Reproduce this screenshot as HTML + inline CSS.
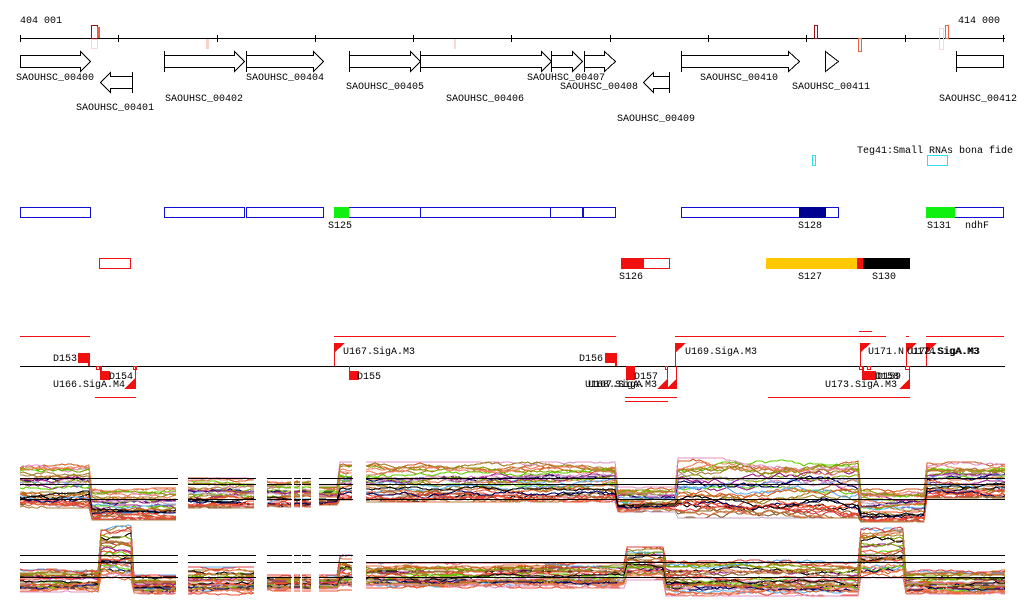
<!DOCTYPE html>
<html><head><meta charset="utf-8"><style>
html,body{margin:0;padding:0;background:#fff;width:1024px;height:611px;overflow:hidden}
svg text{font-family:"Liberation Mono",monospace;font-size:10px;fill:#000}
</style></head><body>
<svg id="s" width="1024" height="611" xmlns="http://www.w3.org/2000/svg" shape-rendering="crispEdges">
<text x="20" y="23">404 001</text>
<text x="958" y="23">414 000</text>
<line x1="20" y1="38.5" x2="1005" y2="38.5" stroke="#000"/>
<g stroke="#000">
<line x1="20.5" y1="35" x2="20.5" y2="42"/><line x1="118.5" y1="35" x2="118.5" y2="42"/><line x1="217.5" y1="35" x2="217.5" y2="42"/><line x1="315.5" y1="35" x2="315.5" y2="42"/><line x1="413.5" y1="35" x2="413.5" y2="42"/><line x1="511.5" y1="35" x2="511.5" y2="42"/><line x1="610.5" y1="35" x2="610.5" y2="42"/><line x1="708.5" y1="35" x2="708.5" y2="42"/><line x1="806.5" y1="35" x2="806.5" y2="42"/><line x1="905.5" y1="35" x2="905.5" y2="42"/><line x1="1003.5" y1="35" x2="1003.5" y2="42"/>
</g>
<rect x="91.5" y="25.5" width="6" height="13" fill="none" stroke="#a01010"/>
<rect x="97" y="27" width="3" height="11" fill="#f06040"/>
<rect x="91.5" y="39.5" width="6" height="9" fill="none" stroke="#f8d8d0"/>
<rect x="206" y="39" width="3" height="10" fill="#f8d0c8"/>
<rect x="454" y="39" width="2" height="10" fill="#f8d8d0"/>
<rect x="814.5" y="25.5" width="3" height="13" fill="none" stroke="#a01010"/>
<rect x="858.5" y="38.5" width="3" height="13" fill="none" stroke="#f06040"/>
<rect x="939.5" y="28.5" width="4" height="21" fill="none" stroke="#f8d8d0"/>
<rect x="945.5" y="25.5" width="3" height="13" fill="none" stroke="#f06040"/>
<g fill="#fff" stroke="#000" stroke-width="1">
<polygon points="20.5,55.5 80.5,55.5 80.5,51.5 90.5,61.5 80.5,71.5 80.5,67.5 20.5,67.5"/>
<polygon points="132.5,76.5 110.5,76.5 110.5,72.5 100.5,82.5 110.5,92.5 110.5,88.5 132.5,88.5"/>
<line x1="132.5" y1="72" x2="132.5" y2="93"/>
<polygon points="164.5,55.5 234.5,55.5 234.5,51.5 244.5,61.5 234.5,71.5 234.5,67.5 164.5,67.5"/>
<line x1="164.5" y1="51" x2="164.5" y2="72"/>
<polygon points="246.5,55.5 313.5,55.5 313.5,51.5 323.5,61.5 313.5,71.5 313.5,67.5 246.5,67.5"/>
<line x1="246.5" y1="51" x2="246.5" y2="72"/>
<polygon points="349.5,55.5 410.5,55.5 410.5,51.5 420.5,61.5 410.5,71.5 410.5,67.5 349.5,67.5"/>
<line x1="349.5" y1="51" x2="349.5" y2="72"/>
<polygon points="420.5,55.5 541.5,55.5 541.5,51.5 551.5,61.5 541.5,71.5 541.5,67.5 420.5,67.5"/>
<line x1="420.5" y1="51" x2="420.5" y2="72"/>
<polygon points="551.5,55.5 572.5,55.5 572.5,51.5 582.5,61.5 572.5,71.5 572.5,67.5 551.5,67.5"/>
<line x1="551.5" y1="51" x2="551.5" y2="72"/>
<polygon points="584.5,55.5 604.5,55.5 604.5,51.5 615.5,61.5 604.5,71.5 604.5,67.5 584.5,67.5"/>
<line x1="584.5" y1="51" x2="584.5" y2="72"/>
<polygon points="669.5,76.5 653.5,76.5 653.5,72.5 643.5,82.5 653.5,92.5 653.5,88.5 669.5,88.5"/>
<line x1="669.5" y1="72" x2="669.5" y2="93"/>
<polygon points="681.5,55.5 788.5,55.5 788.5,51.5 799.5,61.5 788.5,71.5 788.5,67.5 681.5,67.5"/>
<line x1="681.5" y1="51" x2="681.5" y2="72"/>
<polygon points="825.5,51.5 838.5,61.5 825.5,71.5"/>
<rect x="956.5" y="55.5" width="47" height="12"/>
<line x1="956.5" y1="51" x2="956.5" y2="72"/>
</g>
<text x="16" y="80">SAOUHSC_00400</text>
<text x="76" y="110">SAOUHSC_00401</text>
<text x="165" y="101">SAOUHSC_00402</text>
<text x="246" y="80">SAOUHSC_00404</text>
<text x="346" y="89">SAOUHSC_00405</text>
<text x="446" y="101">SAOUHSC_00406</text>
<text x="527" y="80">SAOUHSC_00407</text>
<text x="560" y="89">SAOUHSC_00408</text>
<text x="617" y="121">SAOUHSC_00409</text>
<text x="700" y="80">SAOUHSC_00410</text>
<text x="792" y="89">SAOUHSC_00411</text>
<text x="939" y="101">SAOUHSC_00412</text>
<text x="857" y="153">Teg41:Small RNAs bona fide</text>
<path d="M812 155h4v11h-4zM813 156v9h2v-9z" fill="#30e0f0" fill-rule="evenodd"/>
<path d="M927 155h21v11h-21zM928 156v9h19v-9z" fill="#30e0f0" fill-rule="evenodd"/>
<g fill="none" stroke="#1010d0">
<rect x="20.5" y="207.5" width="70" height="10"/>
<rect x="164.5" y="207.5" width="80" height="10"/>
<rect x="246.5" y="207.5" width="77" height="10"/>
<rect x="348.5" y="207.5" width="72" height="10"/>
<rect x="420.5" y="207.5" width="130" height="10"/>
<rect x="550.5" y="207.5" width="32" height="10"/>
<rect x="583.5" y="207.5" width="32" height="10"/>
<rect x="681.5" y="207.5" width="157" height="10"/>
<rect x="954.5" y="207.5" width="49" height="10"/>
</g>
<rect x="334" y="207" width="15" height="11" fill="#10f010"/>
<rect x="799" y="207" width="27" height="11" fill="#000090"/>
<rect x="926" y="207" width="29" height="11" fill="#10f010"/>
<text x="328" y="228">S125</text>
<text x="798" y="228">S128</text>
<text x="927" y="228">S131</text>
<text x="965" y="228">ndhF</text>
<rect x="99.5" y="258.5" width="31" height="10" fill="none" stroke="#f01010"/>
<rect x="621.5" y="258.5" width="48" height="10" fill="none" stroke="#f01010"/>
<rect x="621" y="258" width="23" height="11" fill="#f01010"/>
<rect x="766" y="258" width="91" height="11" fill="#ffc800"/>
<rect x="857" y="258" width="6" height="11" fill="#f01010"/>
<rect x="863" y="258" width="47" height="11" fill="#000"/>
<text x="619" y="279">S126</text>
<text x="798" y="279">S127</text>
<text x="872" y="279">S130</text>
<g stroke="#f01010" fill="none">
<line x1="20" y1="336.5" x2="90" y2="336.5"/>
<line x1="334" y1="336.5" x2="616" y2="336.5"/>
<line x1="675" y1="336.5" x2="886" y2="336.5"/>
<line x1="906" y1="336.5" x2="909" y2="336.5"/>
<line x1="926" y1="336.5" x2="1004" y2="336.5"/>
<line x1="859" y1="331.5" x2="872" y2="331.5"/>
<line x1="95" y1="397.5" x2="136" y2="397.5"/>
<line x1="625" y1="397.5" x2="677" y2="397.5"/>
<line x1="768" y1="397.5" x2="910" y2="397.5"/>
<line x1="625" y1="401.5" x2="668" y2="401.5"/>
</g>
<line x1="20" y1="366.5" x2="1005" y2="366.5" stroke="#000"/>
<g fill="#f01010" stroke="none">
<rect x="78" y="353" width="11" height="10"/><rect x="88" y="353" width="2" height="13"/>
<rect x="100" y="371" width="10" height="9"/><rect x="100" y="366" width="2" height="6"/>
<rect x="349" y="371" width="10" height="9"/><rect x="349" y="366" width="1" height="6"/>
<rect x="605" y="353" width="11" height="10"/><rect x="615" y="353" width="2" height="13"/>
<rect x="626" y="366" width="9" height="14"/>
<rect x="862" y="371" width="14" height="9"/><rect x="862" y="366" width="2" height="6"/>
<polygon points="334,343 345,343 334,353"/><rect x="334" y="343" width="1" height="23"/>
<polygon points="135,378 135,389 124,389"/><rect x="135" y="366" width="1" height="23"/>
<polygon points="675,343 686,343 675,353"/><rect x="675" y="343" width="1" height="23"/>
<polygon points="677,378 677,389 666,389"/><rect x="676" y="366" width="1" height="23"/>
<polygon points="668,378 668,389 657,389"/><rect x="667" y="366" width="1" height="23"/>
<polygon points="860,343 871,343 860,353"/><rect x="860" y="343" width="1" height="23"/>
<polygon points="906,343 917,343 906,353"/><rect x="906" y="343" width="1" height="23"/>
<polygon points="926,343 937,343 926,353"/><rect x="926" y="343" width="1" height="23"/>
<polygon points="910,378 910,389 899,389"/><rect x="909" y="366" width="1" height="23"/>
</g>
<g fill="none" stroke="#f01010">
<rect x="96.5" y="366.5" width="3" height="3"/><rect x="133.5" y="366.5" width="3" height="3"/>
<rect x="665.5" y="366.5" width="2" height="3"/>
<rect x="859.5" y="366.5" width="3" height="3"/><rect x="867.5" y="366.5" width="3" height="3"/><rect x="905.5" y="366.5" width="4" height="3"/>
</g>
<text x="53" y="361">D153</text>
<text x="109" y="379">D154</text>
<text x="53" y="387">U166.SigA.M4</text>
<text x="343" y="354">U167.SigA.M3</text>
<text x="357" y="379">D155</text>
<text x="579" y="361">D156</text>
<text x="634" y="379">D157</text>
<text x="585" y="387">U168.SigA.M3</text>
<text x="588" y="387">U167.SigA</text>
<text x="685" y="354">U169.SigA.M3</text>
<text x="868" y="354">U171.N</text>
<text x="907" y="354">U172.SigA.M3</text>
<text x="911" y="354">U174</text>
<text x="932" y="354">.SigA.M3</text>
<text x="875" y="379">D158</text>
<text x="877" y="379">D159</text>
<text x="825" y="387">U173.SigA.M3</text>
<g id="plots"></g>
</svg>
<script>
(function(){
var NS="http://www.w3.org/2000/svg",g=document.getElementById("plots");
var seed=12345;function r(){seed=(seed*1103515245+12345)&0x7fffffff;return seed/0x7fffffff;}
var cols=["#f05030","#a08020","#a0208a","#60d000","#60b0f0","#e090c0","#906030","#e07040","#c0a0c0","#e04040","#000060","#80a000","#d06020","#b08040","#f08060","#000000"];
var up=[[20,90,462,508],[90,178,488,520],[188,256,478,508],[267,319,480,507],[319,340,485,505],[340,353,462,500],[366,616,462,502],[616,678,487,512],[678,860,458,518],[860,925,488,522],[925,1005,462,498]];
var lo=[[20,100,568,592],[100,132,525,580],[132,178,575,594],[188,256,567,595],[267,340,575,591],[340,353,555,590],[366,625,563,588],[625,665,547,580],[665,860,560,596],[860,905,524,578],[905,1005,570,594]];
var segs=[[20,178],[188,256],[267,292],[294,301],[302,311],[319,353],[366,1005]];
function band(B,x){for(var i=0;i<B.length;i++)if(x>=B[i][0]&&x<B[i][1])return B[i];return B[B.length-1];}
function panel(B,hl){
 for(var k=0;k<34;k++){
  var q=Math.pow(r(),0.8),c=cols[k%cols.length],n=0;
  segs.forEach(function(s){
   var pts=[];
   for(var x=s[0];x<=s[1];x+=3){n+=(r()-0.5)*0.07;n*=0.97;var b=band(B,x);var qq=Math.min(1,Math.max(0,q+n));pts.push(x+","+(b[2]+qq*(b[3]-b[2])).toFixed(0));}
   var p=document.createElementNS(NS,"polyline");p.setAttribute("points",pts.join(" "));p.setAttribute("fill","none");p.setAttribute("stroke",c);p.setAttribute("stroke-width","1");g.appendChild(p);
  });
 }
 hl.forEach(function(y){segs.forEach(function(s){var l=document.createElementNS(NS,"line");l.setAttribute("x1",s[0]);l.setAttribute("x2",s[1]);l.setAttribute("y1",y+0.5);l.setAttribute("y2",y+0.5);l.setAttribute("stroke","#000");g.appendChild(l);});});
}
panel(up,[478,484,499]);panel(lo,[555,562,577]);
})();
</script>
</body></html>
